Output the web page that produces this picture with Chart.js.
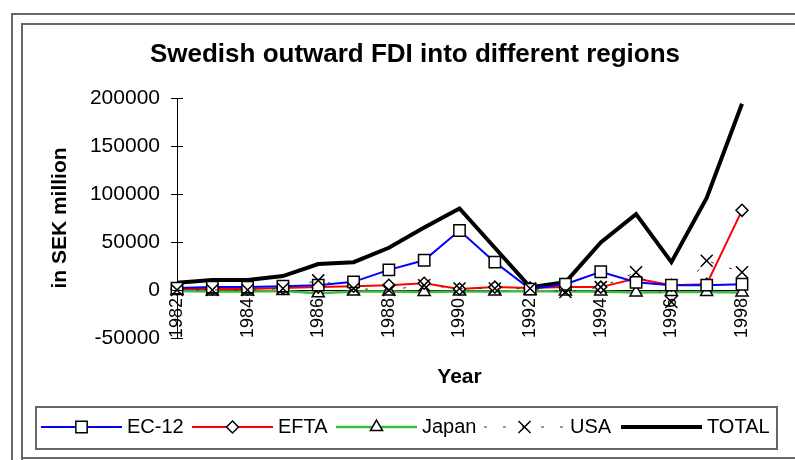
<!DOCTYPE html>
<html>
<head>
<meta charset="utf-8">
<script src="https://cdn.jsdelivr.net/npm/chart.js@4.4.0/dist/chart.umd.min.js"></script>
<style>
  body { margin: 0; background: #fff; }
  #wrap { width: 795px; height: 460px; }
</style>
</head>
<body>
<div id="wrap"><canvas id="fdi" width="795" height="460"></canvas></div>
<script>
// valeurs (SEK million)
const years = ['1982','1983','1984','1985','1986','1987','1988','1989','1990','1991','1992','1993','1994','1995','1996','1997','1998'];
const ec12  = [2000, 3000, 3000, 4000, 5000, 8500, 21000, 31000, 62000, 29000, 1000, 6000, 19000, 8000, 5000, 5000, 6000];
const efta  = [1000, 1000, 1000, 2000, 3000, 4000, 5000, 7000, 1000, 3000, 2000, 3000, 3000, 12000, 5000, 6000, 83000];
const japan = [-1000, -1500, -1500, -1000, -3500, -1500, -1500, -2000, -1500, -1500, -1000, -1500, -1500, -2500, -2000, -2000, -2500];
const usa   = [0, 0, 0, 1500, 10000, 1500, 0, 5000, 1500, 1500, 1500, -2000, 3000, 18500, -12500, 30500, 18500];
const total = [7500, 10500, 10500, 14500, 27000, 29000, 44000, 65000, 85000, 44000, 3000, 8000, 49500, 79000, 29000, 96000, 194000];
const yTicks = [-50000, 0, 50000, 100000, 150000, 200000];

const font = '"Liberation Sans", Arial, sans-serif';
const green = '#3cbc3c';

// cadre, titre, légende et petits traits de l'axe y
const decor = {
  id: 'decor',
  afterDraw(chart) {
    const ctx = chart.ctx;
    ctx.save();
    // cadres
    ctx.strokeStyle = '#666';
    ctx.lineWidth = 2;
    ctx.beginPath();
    ctx.moveTo(12, 460); ctx.lineTo(12, 14); ctx.lineTo(795, 14);
    ctx.stroke();
    ctx.beginPath();
    ctx.moveTo(22, 460); ctx.lineTo(22, 24); ctx.lineTo(795, 24);
    ctx.moveTo(22, 458); ctx.lineTo(795, 458);
    ctx.stroke();

    // titre
    ctx.fillStyle = '#000';
    ctx.font = 'bold 26px ' + font;
    ctx.textAlign = 'center';
    ctx.textBaseline = 'alphabetic';
    ctx.fillText('Swedish outward FDI into different regions', 415, 62);

    // traits de graduation qui croisent l'axe y
    const ys = chart.scales.y;
    const ax = chart.chartArea.left;
    ctx.strokeStyle = '#000';
    ctx.lineWidth = 1;
    yTicks.forEach(v => {
      const py = Math.round(ys.getPixelForValue(v)) + 0.5;
      ctx.beginPath();
      ctx.moveTo(ax - 6, py); ctx.lineTo(ax + 6, py);
      ctx.stroke();
    });

    // légende
    ctx.strokeStyle = '#666';
    ctx.lineWidth = 2;
    ctx.strokeRect(36, 407, 741, 42);
    const items = [[41, 0], [192, 1], [336, 2], [484, 3], [621, 4]];
    const ly = 427;
    items.forEach(([x0, i]) => {
      const ds = chart.data.datasets[i];
      const x1 = x0 + 81;
      ctx.strokeStyle = ds.borderColor;
      ctx.lineWidth = ds.borderWidth;
      ctx.setLineDash(ds.borderDash || []);
      ctx.beginPath();
      ctx.moveTo(x0, ly); ctx.lineTo(x1, ly);
      ctx.stroke();
      ctx.setLineDash([]);
      if (ds.pointRadius > 0) {
        ctx.fillStyle = '#fff';
        ctx.strokeStyle = '#000';
        ctx.lineWidth = ds.pointBorderWidth;
        Chart.helpers.drawPoint(ctx, {pointStyle: ds.pointStyle, radius: ds.pointRadius, borderWidth: ds.pointBorderWidth, rotation: 0}, (x0 + x1) / 2, ly);
      }
      ctx.fillStyle = '#000';
      ctx.font = '20px ' + font;
      ctx.textAlign = 'left';
      ctx.textBaseline = 'middle';
      ctx.fillText(ds.label, x1 + 5, ly);
    });
    ctx.restore();
  }
};

new Chart(document.getElementById('fdi'), {
  type: 'line',
  data: {
    labels: years,
    datasets: [
      { label: 'EC-12', data: ec12, borderColor: '#0000ff', borderWidth: 2,
        pointStyle: 'rect', pointRadius: 8, pointBorderWidth: 1.5, pointBorderColor: '#000', pointBackgroundColor: '#fff' },
      { label: 'EFTA', data: efta, borderColor: '#ff0000', borderWidth: 2,
        pointStyle: 'rectRot', pointRadius: 6, pointBorderWidth: 1.5, pointBorderColor: '#000', pointBackgroundColor: '#fff' },
      { label: 'Japan', data: japan, borderColor: green, borderWidth: 2.5,
        pointStyle: 'triangle', pointRadius: 7, pointBorderWidth: 1.5, pointBorderColor: '#000', pointBackgroundColor: '#fff' },
      { label: 'USA', data: usa, borderColor: '#333', borderWidth: 1, borderDash: [3, 16], order: -1,
        pointStyle: 'crossRot', pointRadius: 8.5, pointBorderWidth: 1.5, pointBorderColor: '#000', pointBackgroundColor: '#fff' },
      { label: 'TOTAL', data: total, borderColor: '#000', borderWidth: 4, pointRadius: 0, order: 5 }
    ]
  },
  options: {
    responsive: false,
    animation: false,
    devicePixelRatio: 1,
    layout: { padding: { left: 30, right: 53, top: 98, bottom: 122 } },
    plugins: { legend: { display: false }, title: { display: false }, tooltip: { enabled: false } },
    elements: { line: { tension: 0 } },
    scales: {
      x: {
        position: { y: 0 },
        offset: false,
        grid: { display: true, drawOnChartArea: false, drawTicks: false },
        border: { color: '#000', width: 1 },
        ticks: {
          autoSkip: false, minRotation: 90, maxRotation: 90, padding: 8,
          color: '#000', font: { family: font, size: 18 },
          callback: function (v, i) { return i % 2 === 0 ? years[i] : ''; }
        },
        title: { display: true, text: 'Year', color: '#000', font: { family: font, size: 21, weight: 'bold' }, padding: { top: 19, bottom: 0 } }
      },
      y: {
        min: -50000, max: 200000,
        afterFit: function (s) { s.width = 147; },
        afterBuildTicks: function (s) { s.ticks = yTicks.map(v => ({ value: v })); },
        grid: { display: true, drawOnChartArea: false, drawTicks: false },
        border: { color: '#000', width: 1 },
        ticks: { padding: 17, color: '#000', font: { family: font, size: 21 }, callback: v => String(v) },
        title: { display: true, text: 'in SEK million', color: '#000', font: { family: font, size: 21, weight: 'bold' }, padding: { top: 18, bottom: 0 } }
      }
    }
  },
  plugins: [decor]
});
</script>
</body>
</html>
